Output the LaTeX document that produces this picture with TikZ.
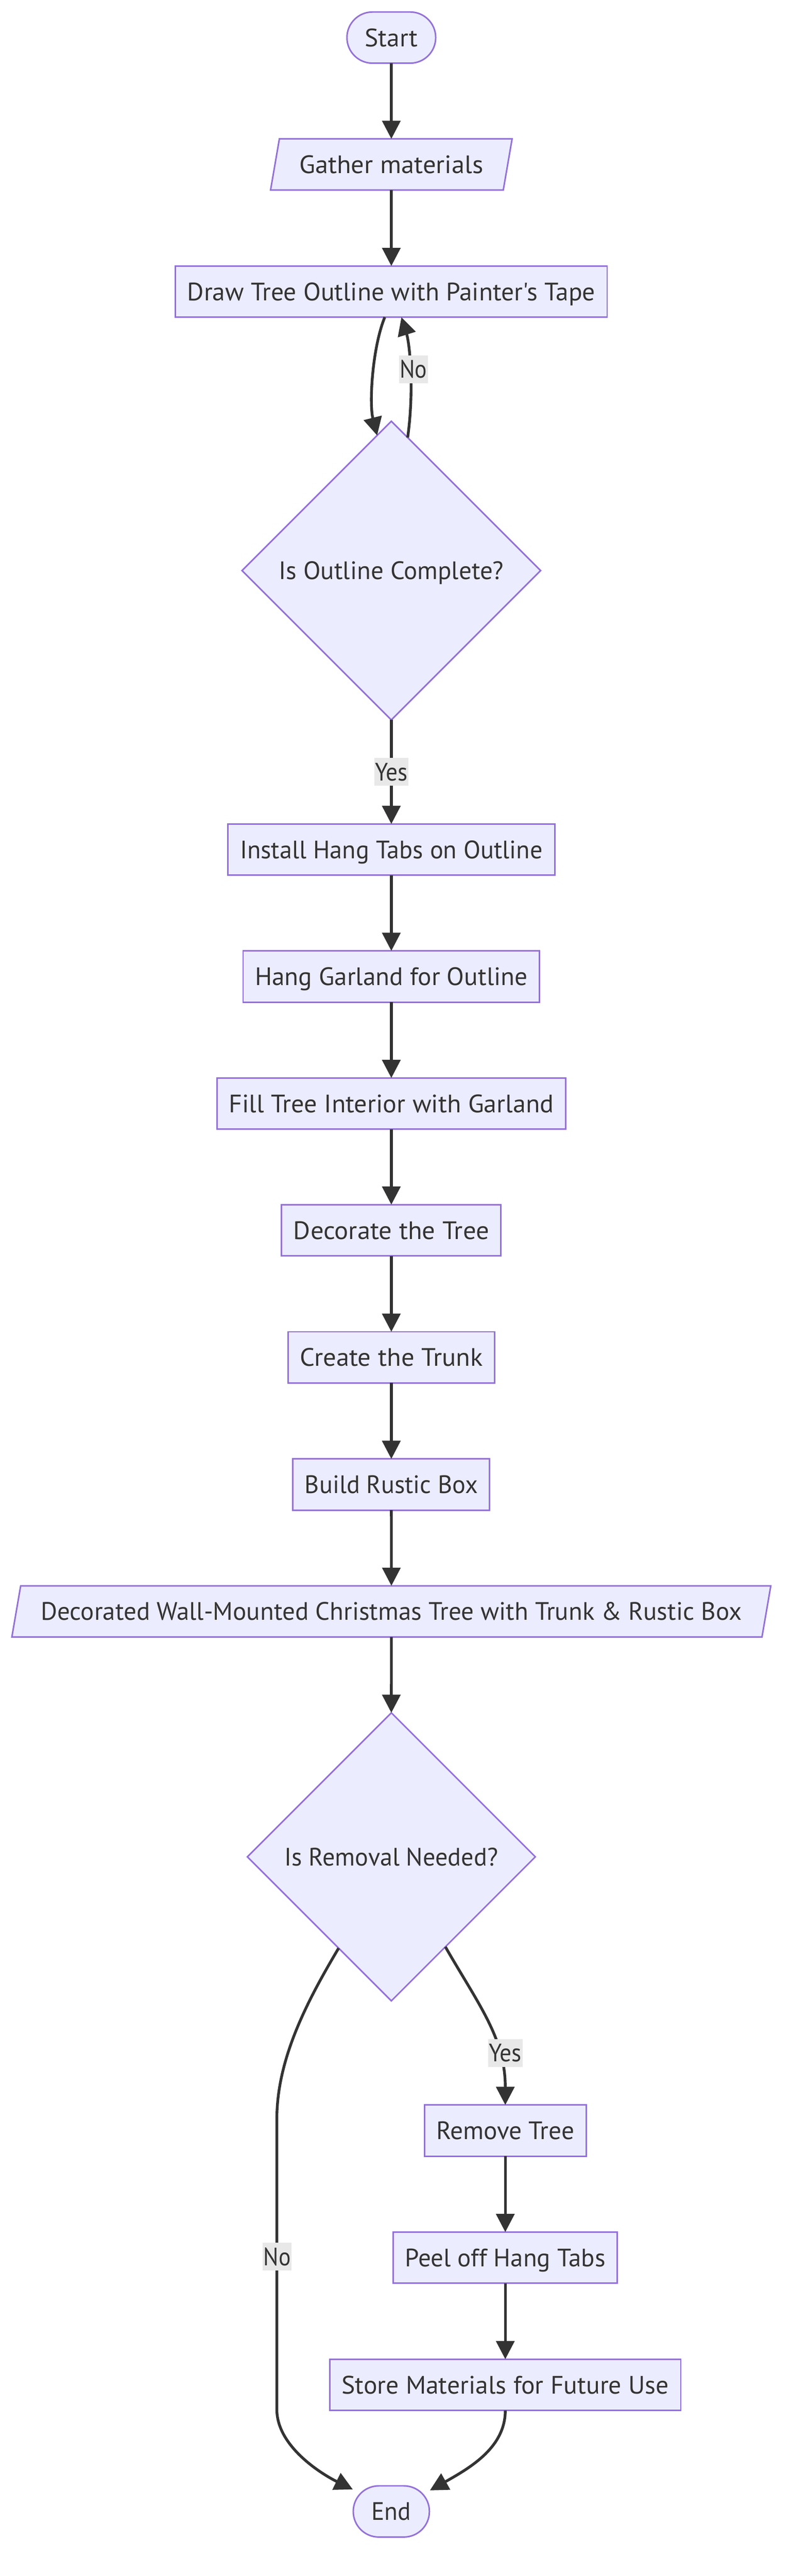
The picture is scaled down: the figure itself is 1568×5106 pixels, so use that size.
\documentclass[tikz,border=0pt]{standalone}
\usepackage{fontspec}
\usepackage{graphicx}
\usetikzlibrary{arrows.meta,shapes.geometric}
\newfontfamily\dfont{PT Sans}
\definecolor{nodefill}{HTML}{ECECFF}
\definecolor{nodeborder}{HTML}{9370DB}
\definecolor{edgecol}{HTML}{333333}
\definecolor{txtcol}{HTML}{333333}
\definecolor{lblbg}{HTML}{E8E8E8}
\newcommand\fitw[2]{\setbox0=\hbox{#2}\pgfmathsetmacro\fitfac{#1/\the\wd0}\scalebox{\fitfac}[1]{\box0}}
\begin{document}
\begin{tikzpicture}[x=0.3pt,y=-0.3pt,
  basefont/.style={font={\dfont\fontsize{15pt}{18pt}\selectfont}, text=txtcol, text height=10.5pt, text depth=0pt},
  shapebase/.style={basefont, draw=nodeborder, fill=nodefill, line width=0.9pt, inner sep=0pt, outer sep=0pt, minimum height=30.45pt},
  procbox/.style={shapebase, rectangle},
  termbox/.style={shapebase, rectangle, rounded corners=15.2pt},
  iobox/.style={shapebase, trapezium, trapezium left angle=63.43, trapezium right angle=116.57, trapezium stretches body=true},
  decbox/.style={shapebase, diamond, aspect=1},
  elabel/.style={basefont, fill=lblbg, inner xsep=0.3pt, inner ysep=0pt, minimum height=16.5pt, outer sep=0pt},
  flow/.style={draw=edgecol, line width=1.65pt, -{Triangle[length=10.8pt,width=10.8pt]}}
]
\useasboundingbox (0,0) rectangle (1568,5106);

% nodes
\node[termbox, minimum width=52.8pt] (start) at (776,74.5) {\fitw{31.5pt}{Start}};
\node[iobox, minimum width=143.7pt] (gather) at (776,326) {\fitw{109.5pt}{Gather materials}};
\node[procbox, minimum width=256.8pt] (draw) at (776,578) {\fitw{242.7pt}{Draw Tree Outline with Painter's Tape}};
\node[decbox, minimum width=177.6pt, minimum height=177.6pt] (d1) at (776,1131) {\fitw{133.8pt}{Is Outline Complete?}};
\node[procbox, minimum width=194.4pt] (install) at (776,1684) {\fitw{180pt}{Install Hang Tabs on Outline}};
\node[procbox, minimum width=176.4pt] (hang) at (776,1935.5) {\fitw{162.3pt}{Hang Garland for Outline}};
\node[procbox, minimum width=207.6pt] (fill) at (776,2187.5) {\fitw{193.5pt}{Fill Tree Interior with Garland}};
\node[procbox, minimum width=130.5pt] (decorate) at (776,2438.5) {\fitw{116.4pt}{Decorate the Tree}};
\node[procbox, minimum width=123pt] (trunk) at (776,2690.5) {\fitw{108.9pt}{Create the Trunk}};
\node[procbox, minimum width=117pt] (rustic) at (776,2942.5) {\fitw{102.9pt}{Build Rustic Box}};
\node[iobox, minimum width=451.5pt] (result) at (776,3194) {\fitw{417pt}{Decorated Wall-Mounted Christmas Tree with Trunk \& Rustic Box}};
\node[decbox, minimum width=171.3pt, minimum height=171.3pt] (d2) at (776,3680.5) {\fitw{126.9pt}{Is Removal Needed?}};
\node[procbox, minimum width=96.3pt] (remove) at (1002,4223) {\fitw{82.2pt}{Remove Tree}};
\node[procbox, minimum width=133.2pt] (peel) at (1002,4475) {\fitw{119.1pt}{Peel off Hang Tabs}};
\node[procbox, minimum width=208.8pt] (store) at (1002,4727) {\fitw{194.7pt}{Store Materials for Future Use}};
\node[termbox, minimum width=45.3pt] (end) at (776,4978) {\fitw{23.5pt}{End}};

% edges
\draw[flow] (start) -- (gather);
\draw[flow] (gather) -- (draw);
\draw[flow] ([xshift=-3.9pt]draw.south) .. controls (738,690) and (732,800) .. (d1.96.2);
\draw[flow] (d1.83.3) .. controls (822,770) and (812,680) .. ([xshift=6pt]draw.south);
\node[elabel, minimum width=17.1pt] (lno1) at (820,732) {\fitw{16.2pt}{No}};
\draw[flow] (d1) -- (install) node[elabel, midway, minimum width=20.4pt] (lyes1) {\fitw{19.5pt}{Yes}};
\draw[flow] (install) -- (hang);
\draw[flow] (hang) -- (fill);
\draw[flow] (fill) -- (decorate);
\draw[flow] (decorate) -- (trunk);
\draw[flow] (trunk) -- (rustic);
\draw[flow] (rustic) -- (result);
\draw[flow] (result) -- (d2);
\draw[flow] (d2.-59.5) .. controls (950,3975) and (1002,4040) .. (remove.north);
\node[elabel, minimum width=20.4pt] (lyes2) at (1002,4069) {\fitw{19.5pt}{Yes}};
\draw[flow] (d2.-120) .. controls (610,3965) and (549,4080) .. (549,4200) -- (549,4776) .. controls (549,4850) and (640,4905) .. ([xshift=-0.3pt,yshift=-2.1pt]end.north west);
\node[elabel, minimum width=17.1pt] (lno2) at (549.5,4473) {\fitw{16.2pt}{No}};
\draw[flow] (remove) -- (peel);
\draw[flow] (peel) -- (store);
\draw[flow] (store.south) .. controls (1002,4850) and (935,4890) .. ([xshift=0.3pt,yshift=-2.7pt]end.north east);
\end{tikzpicture}
\end{document}
